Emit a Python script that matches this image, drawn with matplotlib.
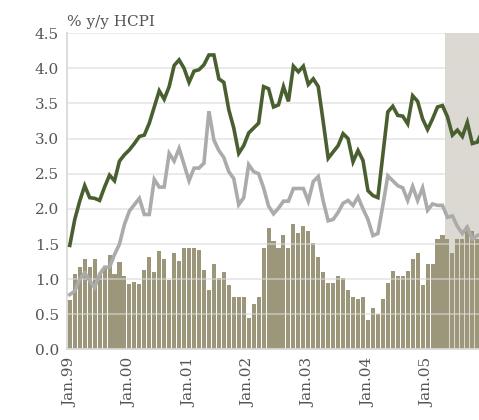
import numpy as np
import matplotlib
matplotlib.use("Agg")
import matplotlib.pyplot as plt

# monthly values, Jan 1999 .. Dec 2005
bars = [0.70, 1.07, 1.18, 1.28, 1.18, 1.28, 1.07, 1.18, 1.34, 1.07, 1.25, 1.04,
        0.93, 0.96, 0.93, 1.13, 1.31, 1.10, 1.40, 1.28, 0.99, 1.37, 1.26, 1.44,
        1.44, 1.44, 1.42, 1.13, 0.84, 1.22, 1.01, 1.10, 0.92, 0.75, 0.75, 0.75,
        0.45, 0.65, 0.75, 1.45, 1.73, 1.54, 1.45, 1.63, 1.45, 1.78, 1.65, 1.75,
        1.68, 1.51, 1.31, 1.10, 0.95, 0.95, 1.04, 1.01, 0.84, 0.75, 0.72, 0.75,
        0.42, 0.59, 0.51, 0.72, 0.95, 1.12, 1.04, 1.04, 1.12, 1.28, 1.37, 0.92,
        1.22, 1.22, 1.57, 1.63, 1.57, 1.37, 1.57, 1.57, 1.76, 1.69, 1.57, 1.57]

green = [1.48, 1.85, 2.11, 2.33, 2.16, 2.15, 2.12, 2.31, 2.48, 2.40, 2.68, 2.77,
         2.84, 2.93, 3.03, 3.05, 3.22, 3.45, 3.68, 3.56, 3.74, 4.04, 4.12, 4.00,
         3.80, 3.96, 3.98, 4.05, 4.19, 4.19, 3.85, 3.80, 3.41, 3.15, 2.79, 2.90,
         3.08, 3.15, 3.22, 3.74, 3.71, 3.45, 3.48, 3.74, 3.53, 4.03, 3.95, 4.03,
         3.77, 3.85, 3.74, 3.24, 2.72, 2.81, 2.90, 3.07, 3.00, 2.67, 2.83, 2.69,
         2.26, 2.19, 2.16, 2.77, 3.38, 3.46, 3.33, 3.32, 3.21, 3.61, 3.53, 3.28,
         3.13, 3.28, 3.45, 3.47, 3.31, 3.05, 3.12, 3.03, 3.23, 2.93, 2.95, 3.10]

gray = [0.78, 0.83, 1.00, 1.09, 0.98, 0.88, 1.07, 1.17, 1.17, 1.35, 1.50, 1.78,
        1.97, 2.06, 2.15, 1.92, 1.92, 2.42, 2.31, 2.31, 2.79, 2.68, 2.86, 2.63,
        2.40, 2.58, 2.58, 2.65, 3.39, 2.98, 2.83, 2.73, 2.53, 2.43, 2.06, 2.16,
        2.63, 2.53, 2.50, 2.30, 2.04, 1.93, 2.01, 2.11, 2.11, 2.29, 2.29, 2.29,
        2.11, 2.39, 2.46, 2.11, 1.83, 1.85, 1.95, 2.08, 2.12, 2.05, 2.17, 2.00,
        1.85, 1.62, 1.65, 2.05, 2.47, 2.40, 2.33, 2.30, 2.12, 2.32, 2.12, 2.30,
        1.98, 2.07, 2.05, 2.05, 1.88, 1.90, 1.75, 1.65, 1.74, 1.57, 1.62, 1.65]

tick_labels = ["Jan.99", "Jan.00", "Jan.01", "Jan.02", "Jan.03", "Jan.04", "Jan.05"]
shade_start = 76  # May 2005

plt.rcParams['font.family'] = ['DejaVu Serif']
txt = '#555555'

fig = plt.figure(figsize=(4.79, 4.20), dpi=100)
ax = fig.add_axes([0.1405, 0.168, 1.0 - 0.1405, 0.753])

x = np.arange(len(bars))
ax.axvspan(shade_start - 0.5, 90, color='#dcd9d2', lw=0, zorder=0)
ax.bar(x, bars, width=0.82, color='#9c967b', zorder=2)
# gridlines sit on top of the bars, faintly
for v in np.arange(0.5, 4.51, 0.5):
    ax.axhline(v, color='#d9d9d9', lw=1.3, alpha=0.6, zorder=2.5)
ax.plot(x, gray, color='#ababab', lw=2.6, zorder=3, solid_joinstyle='miter')
ax.plot(x, green, color='#4a5f30', lw=2.6, zorder=4, solid_joinstyle='miter')

ax.set_xlim(-0.5, 82.35)
ax.set_ylim(0, 4.5)
ax.set_yticks(np.arange(0, 4.51, 0.5))
ax.set_yticklabels([f"{v:.1f}" for v in np.arange(0, 4.51, 0.5)], fontsize=11, color=txt)
ax.set_xticks(np.arange(0, 84, 12))
ax.set_xticklabels(tick_labels, rotation=90, fontsize=11, color=txt)
ax.tick_params(length=0, pad=6)
for s in ['top', 'right']:
    ax.spines[s].set_visible(False)
for s in ['left', 'bottom']:
    ax.spines[s].set_color('#d9d9d9')
    ax.spines[s].set_linewidth(1.3)
    ax.spines[s].set_zorder(2.6)

ax.text(0, 1.012, "% y/y HCPI", transform=ax.transAxes, fontsize=11,
        color=txt, ha='left', va='bottom')

fig.savefig("out.png", dpi=100)
